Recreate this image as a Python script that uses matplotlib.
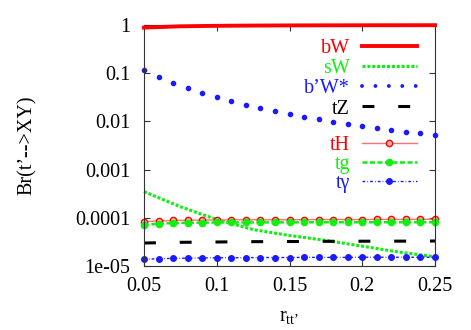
import numpy as np
import matplotlib
matplotlib.use("Agg")
from matplotlib import pyplot as plt
from matplotlib.lines import Line2D
from matplotlib.ticker import FixedLocator, FixedFormatter, LogLocator, NullFormatter

plt.rcParams['font.family'] = 'serif'
plt.rcParams['font.serif'] = ['Liberation Serif', 'DejaVu Serif']
plt.rcParams['mathtext.fontset'] = 'custom'
plt.rcParams['mathtext.rm'] = 'Liberation Serif'
plt.rcParams['mathtext.it'] = 'Liberation Serif:italic'

# data
r_coarse = [0.05, 0.075, 0.1, 0.125, 0.15, 0.175, 0.2, 0.225, 0.25]
r_fine = [0.05, 0.06, 0.07, 0.08, 0.09, 0.10, 0.11, 0.12, 0.13, 0.14, 0.15,
          0.16, 0.17, 0.18, 0.19, 0.20, 0.21, 0.22, 0.23, 0.24, 0.25]

br_bW = [0.885, 0.94, 0.962, 0.974, 0.981, 0.985, 0.988, 0.99, 0.992]
br_sW = [3.5e-4, 1.7e-4, 9.2e-5, 5.7e-5, 4.3e-5, 3.4e-5, 2.58e-5, 1.95e-5, 1.56e-5]
br_tZ = [3.0e-5, 3.1e-5, 3.15e-5, 3.2e-5, 3.22e-5, 3.25e-5, 3.27e-5, 3.28e-5, 3.3e-5]
br_bpW = [0.116, 0.0834, 0.0627, 0.0493, 0.0388, 0.0321, 0.0265, 0.0222, 0.0190, 0.0164,
          0.0143, 0.0123, 0.0111, 0.00987, 0.00883, 0.00803, 0.00719, 0.00663, 0.00611,
          0.00566, 0.00522]
br_tH = [8.3e-5, 8.6e-5, 8.8e-5, 8.9e-5, 9.0e-5, 9.0e-5, 9.05e-5, 9.1e-5, 9.1e-5, 9.1e-5,
         9.15e-5, 9.15e-5, 9.2e-5, 9.2e-5, 9.2e-5, 9.2e-5, 9.25e-5, 9.25e-5, 9.25e-5,
         9.3e-5, 9.3e-5]
br_tg = [7.1e-5, 7.55e-5, 7.8e-5, 7.9e-5, 7.95e-5, 8.0e-5, 8.0e-5, 8.0e-5, 8.05e-5, 8.05e-5,
         8.05e-5, 8.05e-5, 8.1e-5, 8.1e-5, 8.1e-5, 8.1e-5, 8.1e-5, 8.1e-5, 8.1e-5,
         8.1e-5, 8.1e-5]
br_tga = [1.38e-5, 1.42e-5, 1.44e-5, 1.46e-5, 1.47e-5, 1.48e-5, 1.49e-5, 1.49e-5, 1.50e-5,
          1.50e-5, 1.50e-5, 1.51e-5, 1.51e-5, 1.51e-5, 1.51e-5, 1.52e-5, 1.52e-5, 1.52e-5,
          1.52e-5, 1.52e-5, 1.52e-5]

ytick_vals = [1e-5, 1e-4, 1e-3, 1e-2, 1e-1, 1]
ytick_labels = ['1e-05', '0.0001', '0.001', '0.01', '0.1', '1']
xtick_vals = [0.05, 0.1, 0.15, 0.2, 0.25]
xtick_labels = ['0.05', '0.1', '0.15', '0.2', '0.25']

RED = '#ff0000'
GREEN = '#11ee11'
BLUE = '#1a1aff'
FS = 14.5

fig = plt.figure(figsize=(4.71, 3.30), dpi=100)
ax = fig.add_axes([0.3057, 0.1939, 0.6179, 0.7303])

l_bW, = ax.plot(r_coarse, br_bW, color=RED, lw=2.8, clip_on=False, zorder=5)
l_sW, = ax.plot(r_coarse, br_sW, color=GREEN, lw=2.2, ls=(0, (1, 0.6)), clip_on=False)
ax.plot(r_fine, br_bpW, ls='none', marker='o', ms=3.0, color=BLUE, mec=BLUE, clip_on=False)
l_tZ, = ax.plot(r_coarse, br_tZ, color='black', lw=2.2, ls=(0, (3.9, 7.8)), clip_on=False)
l_tH, = ax.plot(r_fine, br_tH, color='#ff7070', lw=1.0, marker='o', ms=4.5,
                mec=RED, mfc='#ffb0b0', mew=1.0, clip_on=False)
l_tg, = ax.plot(r_fine, br_tg, color=GREEN, lw=1.8, ls=(0, (2, 1)), marker='o', ms=4.5,
                mec=GREEN, mfc=GREEN, clip_on=False)
l_tga, = ax.plot(r_fine, br_tga, color=BLUE, lw=1.0, ls=(0, (2, 1.5, 0.5, 1.5)), marker='o',
                 ms=4.0, mec=BLUE, mfc=BLUE, clip_on=False)

# proxy for the dotted b'W* legend sample
h_bpW = Line2D([], [], color=BLUE, lw=2.8, ls=(0, (0.001, 3.45)), dash_capstyle='round')

ax.set_yscale('log')
ax.set_xlim(0.05, 0.25)
ax.set_ylim(1e-5, 1)

ax.yaxis.set_major_locator(FixedLocator(ytick_vals))
ax.yaxis.set_major_formatter(FixedFormatter(ytick_labels))
ax.yaxis.set_minor_locator(LogLocator(base=10, subs=np.arange(2, 10)))
ax.yaxis.set_minor_formatter(NullFormatter())
ax.xaxis.set_major_locator(FixedLocator(xtick_vals))
ax.xaxis.set_major_formatter(FixedFormatter(xtick_labels))

ax.tick_params(which='both', direction='in', top=True, right=True, width=0.8, color='#333333')
ax.tick_params(which='major', length=4.5)
ax.tick_params(which='minor', length=2.2)
ax.tick_params(axis='y', which='major', pad=10, labelsize=FS)
ax.tick_params(axis='x', which='major', pad=8, labelsize=FS)
for s in ax.spines.values():
    s.set_linewidth(0.8)
    s.set_color('#333333')

ax.set_xlabel("r$_{\\mathrm{tt’}}$", fontsize=FS, labelpad=8)
ax.set_ylabel("Br(t’-->XY)", fontsize=FS, labelpad=27)

leg1 = ax.legend([l_bW, l_sW, h_bpW, l_tZ], ['bW', 'sW', 'b’W*', 'tZ'],
                 loc='upper right', bbox_to_anchor=(0.938, 0.944), frameon=False,
                 markerfirst=False, fontsize=FS, handlelength=2.73, handletextpad=0.6,
                 labelspacing=0.06, borderpad=0, borderaxespad=0, numpoints=1,
                 labelcolor=[RED, GREEN, BLUE, 'black'])
ax.add_artist(leg1)
leg2 = ax.legend([l_tH, l_tg, l_tga], ['tH', 'tg', 'tγ'],
                 loc='upper right', bbox_to_anchor=(0.938, 0.541), frameon=False,
                 markerfirst=False, fontsize=FS, handlelength=2.73, handletextpad=0.6,
                 labelspacing=0.0, borderpad=0, borderaxespad=0, numpoints=1,
                 labelcolor=[RED, GREEN, BLUE])

fig.savefig('out.png', dpi=100)
